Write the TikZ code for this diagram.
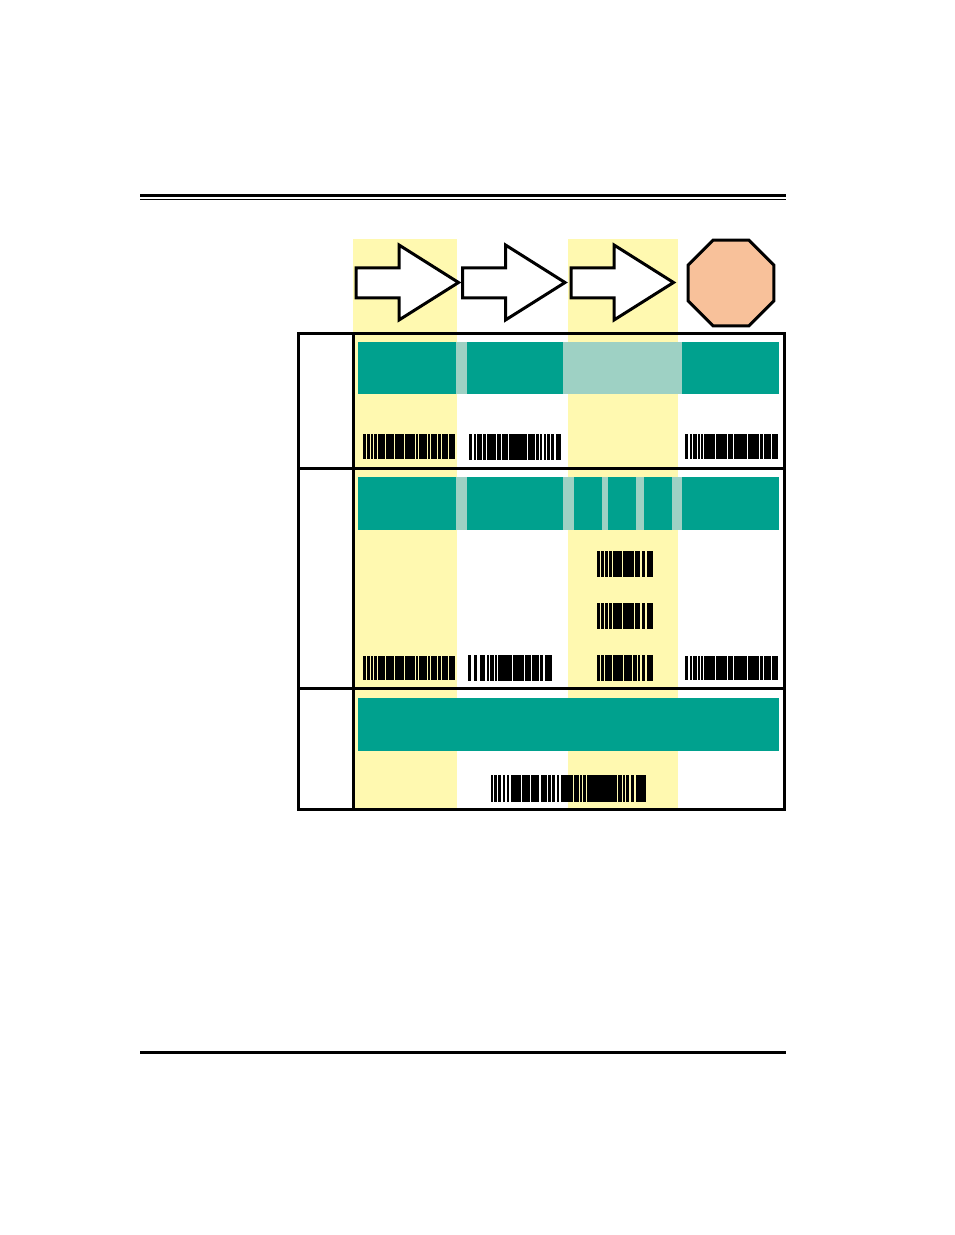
\documentclass[tikz,border=0pt]{standalone}
\usepackage{tikz}
\definecolor{bandteal}{RGB}{0,161,142}
\definecolor{gapteal}{RGB}{158,209,196}
\definecolor{hilite}{RGB}{255,249,176}
\definecolor{stopfill}{RGB}{248,193,154}
% bars of a code: x, top, bottom, list of offset/width
\newcommand{\barcode}[4]{%
  \foreach \o/\w in {#4} \fill (#1+\o-0.3,#2) rectangle (#1+\o+\w+0.4,#3);}

\begin{document}
\begin{tikzpicture}[x=0.5pt,y=-0.5pt,
    heavy/.style={line width=1.5pt},
    flowarrow/.style={draw,line width=1.5pt,fill=white,line join=miter},
    band/.style={fill=bandteal},
    gap/.style={fill=gapteal}]
  \useasboundingbox (0,0) rectangle (954,1235);
  % page rules
  \draw [heavy] (140,195.5) -- (786,195.5);
  \draw [line width=0.5pt] (140,200) -- (786,200);
  \draw [heavy] (140,1052) -- (786,1052);
  % shaded columns
  \fill [hilite] (353,239) rectangle (457,808);
  \fill [hilite] (568,239) rectangle (678,808);
  % arrows and stop sign
  \foreach \x in {356,462.5,571}
    \draw [flowarrow] (\x,268) -- (\x+43,268) -- (\x+43,245) -- (\x+102.5,282.5)
      -- (\x+43,320) -- (\x+43,298) -- (\x,298) -- cycle;
  \begin{scope}[shift={(731,283)}]
    \draw [heavy,fill=stopfill] (22.5:46.5) -- (67.5:46.5) -- (112.5:46.5) -- (157.5:46.5)
      -- (202.5:46.5) -- (247.5:46.5) -- (292.5:46.5) -- (337.5:46.5) -- cycle;
  \end{scope}
  % teal bands
  \fill [band] (358,342) rectangle (779,394);
  \fill [gap] (456,342) rectangle (467,394);
  \fill [gap] (563,342) rectangle (682,394);
  \fill [band] (358,477) rectangle (779,530);
  \foreach \a/\b in {456/467,563/574,602/608,636/644,672/682}
    \fill [gap] (\a,477) rectangle (\b,530);
  \fill [band] (358,698) rectangle (779,751);
  % table
  \draw [heavy] (298,334) rectangle (784,809);
  \draw [heavy] (353,334) -- (353,809);
  \draw [heavy] (298,468) -- (784,468);
  \draw [heavy] (298,688) -- (784,688);
  % codes, row 1
  \barcode{363}{434}{459}{0/3,4.5/2,8/2,11.5/2.5,15.5/6,23/8,32/9,42/10,53/2,56/8,65/2,68/6,75.5/2,79/6,86.5/2,89.5/2.5}
  \barcode{469}{434}{460}{0/3,5/2,8/5,14.5/2,18/9,28.5/3,33/6,40.5/17,59/7,67.5/2,71/2,75/2,78.5/2,82/3,87/5}
  \barcode{685}{434}{459}{0/3,5/2,8.5/3,13/2,16.5/1.5,19.5/10,31/11,43.5/4,49/13,63.5/10,75/3,79.5/6,87/6}
  % codes, row 2
  \barcode{597}{551}{577}{0/3,4.7/2.3,8.3/2,12/2.3,16/9,26.5/10,38/5,45/3,50/6}
  \barcode{597}{603}{629}{0/3,4.7/2.3,8.3/2,12/2.3,16/9,26.5/10,38/5,45/3,50/6}
  \barcode{597}{655}{681}{0/3,4.5/2,8/7,16.5/9,27/8,36.5/3,41/2,45/3,50/6}
  \barcode{363}{656}{680}{0/3,4.5/2,8/2,11.5/2.5,15.5/6,23/8,32/9,42/10,53/2,56/8,65/2,68/6,75.5/2,79/6,86.5/2,89.5/2.5}
  \barcode{468}{655}{681}{0/3,6/3,12/5,19/2,22/1.5,24.5/1.5,27/2,30/14,45.5/10,57/6,64.5/6,72/3,77/7}
  \barcode{685}{656}{680}{0/3,5/2,8.5/3,13/2,16.5/1.5,19.5/10,31/11,43.5/4,49/13,63.5/10,75/3,79.5/6,87/6}
  % code, row 3
  \barcode{491}{775}{802}{0/2,3.5/2,7/3,12/2,16/2,20/10,31.5/7,40/8,50/6,57.5/2,61/3,66/2,70/12,83.5/4,89/2,92.5/2,96/30,127.5/3,132/2,135.5/2.5,140/3,145/10}
\end{tikzpicture}
\end{document}
